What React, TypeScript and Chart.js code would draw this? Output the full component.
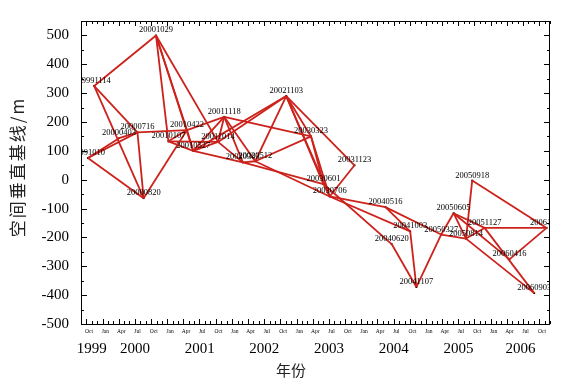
import React, { useEffect, useRef } from "react";
import { Chart, registerables } from "chart.js";
Chart.register(...registerables);

// Acquisition dates (labels) and perpendicular baselines (m)
const dates = [
  "19991010", "19991114", "20000403", "20000716", "20000820", "20001029",
  "20010107", "20010422", "20010527", "20011014", "20011118",
  "20020303", "20020512", "20021103",
  "20030323", "20030601", "20030706", "20031123",
  "20040516", "20040620", "20041003", "20041107",
  "20050327", "20050605", "20050814", "20050918", "20051127",
  "20060416", "20060903", "20061112",
];
const baselines = [
  75, 325, 144, 164, -64, 500,
  133, 172, 100, 131, 218,
  60, 64, 290,
  150, -15, -58, 50,
  -95, -223, -179, -372,
  -190, -116, -204, -3, -167,
  -276, -393, -167,
];
// Interferometric pairs
const pairs: [string, string][] = [
  ["19991010", "20000403"], ["19991010", "20000716"], ["19991010", "20000820"],
  ["19991114", "20001029"], ["19991114", "20000716"], ["19991114", "20000820"],
  ["20000403", "20000716"], ["20000716", "20000820"], ["20000716", "20010422"],
  ["20000820", "20010422"], ["20001029", "20010107"], ["20001029", "20010422"],
  ["20001029", "20010527"], ["20001029", "20011014"],
  ["20010107", "20010422"], ["20010107", "20010527"], ["20010107", "20011014"],
  ["20010422", "20011118"], ["20010422", "20010527"], ["20010527", "20011014"],
  ["20010527", "20011118"], ["20010527", "20020303"], ["20010527", "20021103"],
  ["20011014", "20011118"], ["20011014", "20020303"], ["20011014", "20021103"],
  ["20011118", "20020303"], ["20011118", "20020512"], ["20011118", "20030323"],
  ["20020303", "20020512"], ["20020512", "20021103"], ["20020512", "20030323"],
  ["20020303", "20030601"], ["20020512", "20030706"],
  ["20021103", "20030323"], ["20021103", "20030601"], ["20021103", "20030706"],
  ["20021103", "20031123"], ["20030323", "20030601"], ["20030323", "20030706"],
  ["20030601", "20030706"], ["20030706", "20031123"],
  ["20030706", "20040516"], ["20030706", "20041003"], ["20030601", "20040620"],
  ["20040516", "20041003"], ["20040516", "20050327"], ["20041003", "20041107"],
  ["20040620", "20041107"], ["20041107", "20050327"],
  ["20050327", "20050605"], ["20050327", "20050814"], ["20050605", "20050814"],
  ["20050605", "20051127"], ["20050605", "20060416"], ["20050814", "20050918"],
  ["20050918", "20061112"], ["20050814", "20051127"], ["20050814", "20060903"],
  ["20051127", "20060903"], ["20051127", "20061112"], ["20060416", "20061112"],
];
const yTickValues = [-500, -400, -300, -200, -100, 0, 100, 200, 300, 400, 500];
const monthNames = ["Jan", "Apr", "Jul", "Oct"];
const yearLabels = [1999, 2000, 2001, 2002, 2003, 2004, 2005, 2006];
const axisStart = "19990901";
const axisEnd = "20061201";
const yMin = -500;
const yMax = 550;
const yTitle = "空间垂直基线/m";
const xTitle = "年份";

function toYear(s: string): number {
  const y = +s.slice(0, 4), m = +s.slice(4, 6), d = +s.slice(6, 8);
  const a = Date.UTC(y, 0, 1), b = Date.UTC(y + 1, 0, 1);
  return y + (Date.UTC(y, m - 1, d) - a) / (b - a);
}
function ym(y: number, m: number): number {
  const yy = y + Math.floor(m / 12), mm = ((m % 12) + 12) % 12;
  const a = Date.UTC(yy, 0, 1), b = Date.UTC(yy + 1, 0, 1);
  return yy + (Date.UTC(yy, mm, 1) - a) / (b - a);
}

const RED = "#cc221b";
const SERIF = '"Liberation Serif", "Times New Roman", serif';

const decorPlugin = {
  id: "decor",
  afterDatasetsDraw(chart: any) {
    const { ctx, chartArea } = chart;
    const xs = chart.scales.x, ys = chart.scales.y;
    ctx.save();
    ctx.beginPath();
    ctx.rect(chartArea.left, chartArea.top, chartArea.right - chartArea.left, chartArea.bottom - chartArea.top);
    ctx.clip();
    ctx.fillStyle = "#000";
    ctx.font = `8.5px ${SERIF}`;
    ctx.textAlign = "center";
    ctx.textBaseline = "alphabetic";
    dates.forEach((d, i) => {
      const px = xs.getPixelForValue(toYear(d));
      const py = ys.getPixelForValue(baselines[i]);
      ctx.fillText(d, px, py - 3);
    });
    ctx.restore();
  },
  afterDraw(chart: any) {
    const { ctx, chartArea } = chart;
    const { left, right, top, bottom } = chartArea;
    const xs = chart.scales.x, ys = chart.scales.y;
    ctx.save();
    ctx.strokeStyle = "#000";
    ctx.lineWidth = 1;
    ctx.strokeRect(left + 0.5, top + 0.5, right - left - 1, bottom - top);
    const x0 = toYear(axisStart), x1 = toYear(axisEnd);
    ctx.beginPath();
    for (let k = 0; k < 120; k++) {
      const t = ym(1999, 8 + k);
      if (t < x0 - 1e-6 || t > x1 + 1e-6) continue;
      const px = Math.round(xs.getPixelForValue(t)) + 0.5;
      const m = (8 + k) % 12;
      const len = m % 3 === 0 ? 5 : 3;
      ctx.moveTo(px, bottom); ctx.lineTo(px, bottom - len);
      ctx.moveTo(px, top); ctx.lineTo(px, top + len);
    }
    for (let v = yMin; v <= yMax; v += 50) {
      const py = Math.round(ys.getPixelForValue(v)) + 0.5;
      const len = v % 100 === 0 ? 6 : 3;
      ctx.moveTo(left, py); ctx.lineTo(left + len, py);
      ctx.moveTo(right, py); ctx.lineTo(right - len, py);
    }
    ctx.stroke();
    ctx.fillStyle = "#000";
    ctx.font = `5.5px ${SERIF}`;
    ctx.textAlign = "center";
    ctx.textBaseline = "middle";
    for (let k = 0; k < 120; k++) {
      const m = (8 + k) % 12;
      if (m % 3 !== 0) continue;
      const t0 = ym(1999, 8 + k), t1 = ym(1999, 9 + k);
      if (t1 > x1 + 1e-6) continue;
      const px = xs.getPixelForValue((t0 + t1) / 2);
      ctx.fillText(monthNames[m / 3], px, bottom + 8);
    }
    ctx.font = `15px ${SERIF}`;
    yearLabels.forEach((y) => {
      const a = Math.max(y, x0), b = Math.min(y + 1, x1);
      const px = xs.getPixelForValue((a + b) / 2);
      ctx.fillText(String(y), px, bottom + 25);
    });
    ctx.fillStyle = "#222";
    ctx.font = `15px "Noto Sans CJK SC", sans-serif`;
    ctx.fillText(xTitle, 291, bottom + 46);
    ctx.translate(18, 168);
    ctx.rotate(-Math.PI / 2);
    ctx.font = `17px "Noto Sans CJK SC", sans-serif`;
    (ctx as any).letterSpacing = "2px";
    ctx.fillText(yTitle, 1, 0);
    ctx.restore();
  },
};

export default function App() {
  const ref = useRef<HTMLCanvasElement>(null);
  useEffect(() => {
    document.body.style.margin = "0";
    const idx: Record<string, number> = {};
    dates.forEach((d, i) => (idx[d] = i));
    const lineSets = pairs.map(([a, b]) => ({
      data: [
        { x: toYear(a), y: baselines[idx[a]] },
        { x: toYear(b), y: baselines[idx[b]] },
      ],
      showLine: true,
      borderColor: RED,
      borderWidth: 1.8,
      pointRadius: 0,
      pointHoverRadius: 0,
    }));
    const pointSet = {
      data: dates.map((d, i) => ({ x: toYear(d), y: baselines[i] })),
      showLine: false,
      pointRadius: 1.3,
      pointStyle: "rect",
      backgroundColor: "#000",
      borderColor: "#000",
      borderWidth: 0,
    };
    const chart = new Chart(ref.current!, {
      type: "scatter",
      data: { datasets: [...lineSets, pointSet] as any },
      options: {
        animation: false,
        responsive: false,
        maintainAspectRatio: false,
        layout: { padding: { top: 10, right: 16, left: 0, bottom: 0 } },
        plugins: { legend: { display: false }, tooltip: { enabled: false } },
        scales: {
          x: {
            type: "linear",
            min: toYear(axisStart),
            max: toYear(axisEnd),
            ticks: { display: false },
            grid: { display: false, drawTicks: false },
            border: { display: false },
            afterFit: (s: any) => { s.height = 61; },
          },
          y: {
            min: yMin,
            max: yMax,
            afterBuildTicks: (s: any) => { s.ticks = yTickValues.map((v) => ({ value: v })); },
            ticks: {
              color: "#000",
              padding: 12,
              font: { family: SERIF, size: 15 },
            },
            grid: { display: false, drawTicks: false },
            border: { display: false },
            afterFit: (s: any) => { s.width = 81; },
          },
        },
      },
      plugins: [decorPlugin],
    });
    return () => chart.destroy();
  }, []);
  return (
    <div style={{ position: "fixed", left: 0, top: 0, width: 566, height: 385, background: "#fff" }}>
      <canvas ref={ref} width={566} height={385} style={{ display: "block" }} />
    </div>
  );
}
